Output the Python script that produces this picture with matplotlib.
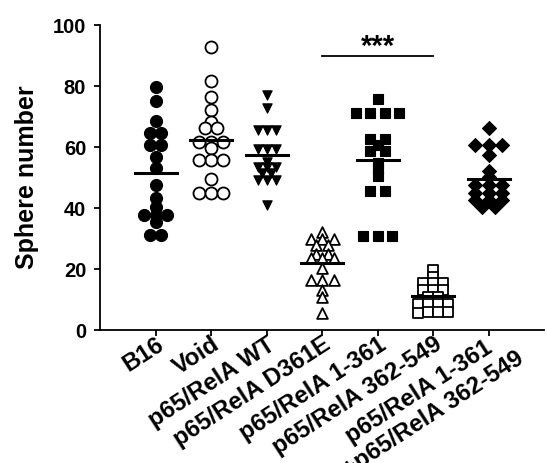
import numpy as np
import matplotlib
matplotlib.use("Agg")
import matplotlib.pyplot as plt
from matplotlib.transforms import ScaledTranslation

plt.rcParams['font.family'] = ['Liberation Sans', 'DejaVu Sans']
plt.rcParams['font.weight'] = 'bold'

groups = ["B16", "Void", "p65/RelA WT", "p65/RelA D361E", "p65/RelA 1-361",
          "p65/RelA 362-549", "p65/RelA 1-361\n+p65/RelA 362-549"]

b16 = [79.8, 75.0, 68.6, 64.5, 64.5, 60.7, 60.7, 56.8, 53.0, 47.5, 43.2, 40.5,
       37.7, 37.7, 37.7, 35.5, 31.1, 31.1]
void = [92.9, 81.7, 76.5, 72.1, 68.3, 66.1, 66.1, 61.7, 61.7, 61.7, 59.6,
        55.7, 55.7, 55.7, 49.5, 44.8, 44.8, 44.8]
wt = [77.0, 72.7, 65.5, 65.5, 65.5, 59.3, 59.3, 59.3, 55.0, 53.6, 53.6, 53.6,
      51.4, 51.4, 49.2, 49.2, 49.2, 41.0]
d361e = [32.2, 30.0, 30.0, 30.0, 27.9, 27.9, 25.1, 25.1, 23.5, 23.5, 23.5,
         20.2, 16.4, 16.4, 16.4, 13.1, 10.9, 5.5]
r1_361 = [75.6, 71.0, 71.0, 71.0, 71.0, 62.5, 62.5, 60.7, 58.7, 58.7, 54.9,
          52.7, 50.5, 45.6, 45.6, 30.8, 30.8, 30.8]
r362_549 = [19.7, 17.5, 15.5, 15.5, 15.5, 13.1, 13.1, 13.1, 10.9, 10.9,
            8.7, 8.7, 8.7, 8.7, 6.0, 6.0, 6.0, 5.5]
combo = [66.1, 60.7, 60.7, 60.7, 57.4, 52.0, 50.3, 47.5, 47.5, 47.5, 44.8,
         44.8, 44.8, 42.6, 42.6, 42.6, 40.4, 40.4]

values = [b16, void, wt, d361e, r1_361, r362_549, combo]
markers = ['o', 'o', 'v', '^', 's', 's', 'D']
filled = [True, False, True, False, True, False, True]
sizes = [75, 75, 45, 60, 52, 60, 50]
steps = [0.21, 0.21, 0.16, 0.21, 0.26, 0.18, 0.24]


def row_offsets(vals, step, h=1.2):
    # GraphPad-like scatter: points of similar value share a centred row
    vals = np.asarray(vals)
    order = np.argsort(vals)
    offs = np.zeros(len(vals))
    i = 0
    while i < len(order):
        j = i
        while j + 1 < len(order) and vals[order[j + 1]] - vals[order[i]] <= h:
            j += 1
        idx = order[i:j + 1]
        n = len(idx)
        offs[idx] = (np.arange(n) - (n - 1) / 2) * step
        i = j + 1
    return offs


fig = plt.figure(figsize=(5.47, 4.63), dpi=100)
ax = fig.add_axes([0.183, 0.287, 0.812, 0.659])

for k, v in enumerate(values):
    pos = k + 1
    x = pos + row_offsets(v, steps[k])
    if filled[k]:
        ax.scatter(x, v, marker=markers[k], s=sizes[k], c='black',
                   edgecolors='black', linewidths=0.8, zorder=3)
    else:
        ax.scatter(x, v, marker=markers[k], s=sizes[k], facecolors='white',
                   edgecolors='black', linewidths=1.3, zorder=3)
    m = np.mean(v)
    ax.plot([pos - 0.38, pos + 0.38], [m, m], color='black', lw=2.2, zorder=4)

# significance bar
ax.plot([4, 6], [90, 90], color='black', lw=1.3)
ax.text(5, 88.3, "***", ha='center', va='bottom', fontsize=21, fontweight='bold')

ax.set_xlim(0, 8)
ax.set_ylim(0, 100)
ax.set_yticks([0, 20, 40, 60, 80, 100])
ax.set_xticks(range(1, 8))
ax.set_xticklabels(groups, rotation=33, ha='right', va='top',
                   rotation_mode='anchor', multialignment='center',
                   fontsize=17.3)
ax.tick_params(axis='both', width=1.3, length=4, direction='out')
ax.tick_params(axis='y', labelsize=14.5, pad=6)
ax.tick_params(axis='x', pad=-2)
for lab in ax.get_xticklabels() + ax.get_yticklabels():
    lab.set_fontweight('bold')

# two-line label sits a little further along its baseline
last = ax.get_xticklabels()[-1]
last.set_transform(last.get_transform() +
                   ScaledTranslation(0.12, 0.08, fig.dpi_scale_trans))

ax.set_ylabel("Sphere number", fontsize=18, fontweight='bold', labelpad=10)

ax.spines['top'].set_visible(False)
ax.spines['right'].set_visible(False)
ax.spines['left'].set_linewidth(1.3)
ax.spines['bottom'].set_linewidth(1.3)

fig.savefig("out.png", dpi=100)
